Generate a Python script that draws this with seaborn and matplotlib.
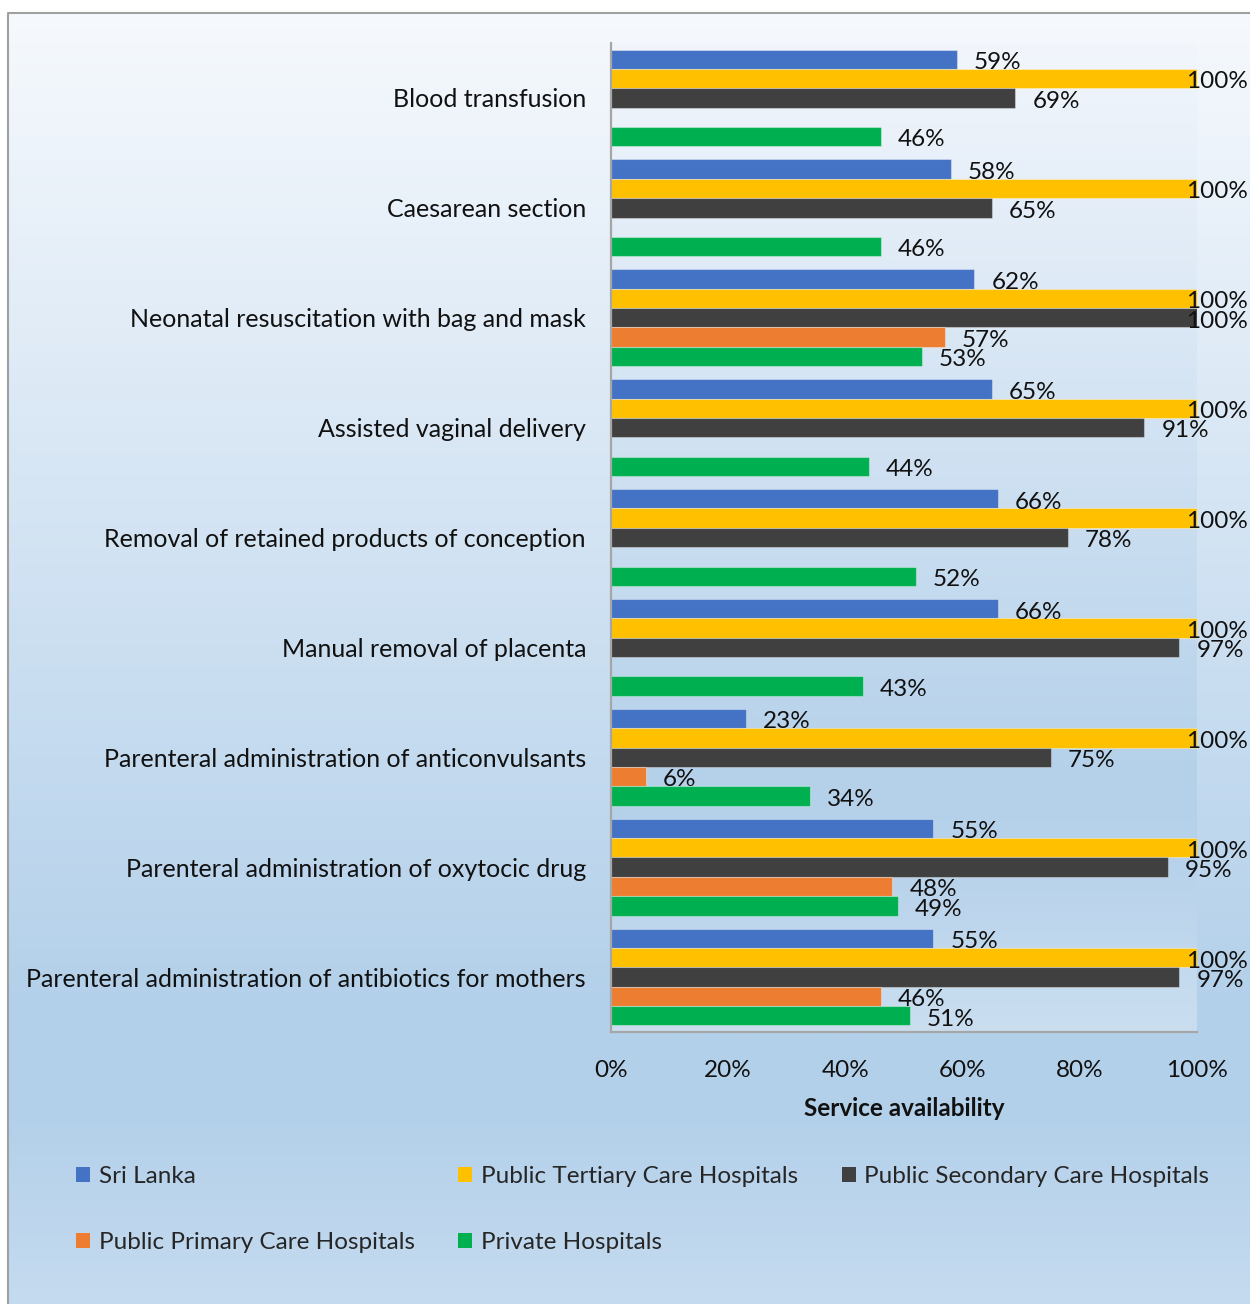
import numpy as np
import pandas as pd
import matplotlib
matplotlib.use("Agg")
import matplotlib.pyplot as plt
import seaborn as sns
from matplotlib.patches import Patch
from matplotlib.colors import to_rgb

# ---- data -----------------------------------------------------------------
procedures = [
    "Blood transfusion",
    "Caesarean section",
    "Neonatal resuscitation with bag and mask",
    "Assisted vaginal delivery",
    "Removal of retained products of conception",
    "Manual removal of placenta",
    "Parenteral administration of anticonvulsants",
    "Parenteral administration of oxytocic drug",
    "Parenteral administration of antibiotics for mothers",
]
series = [
    "Sri Lanka",
    "Public Tertiary Care Hospitals",
    "Public Secondary Care Hospitals",
    "Public Primary Care Hospitals",
    "Private Hospitals",
]
sri_lanka = [59, 58, 62, 65, 66, 66, 23, 55, 55]
tertiary = [100, 100, 100, 100, 100, 100, 100, 100, 100]
secondary = [69, 65, 100, 91, 78, 97, 75, 95, 97]
primary = [np.nan, np.nan, 57, np.nan, np.nan, np.nan, 6, 48, 46]
private = [46, 46, 53, 44, 52, 43, 34, 49, 51]
x_ticks = [0, 20, 40, 60, 80, 100]

colors = ["#4472C4", "#FFC000", "#404040", "#ED7D31", "#00B050"]

rows = []
for name, vals in zip(series, [sri_lanka, tertiary, secondary, primary, private]):
    for proc, v in zip(procedures, vals):
        rows.append({"procedure": proc, "series": name, "value": v})
df = pd.DataFrame(rows).dropna()

# ---- figure ---------------------------------------------------------------
W, H = 1250, 1304
sns.set_style("white")
plt.rcParams["font.family"] = ["Lato", "DejaVu Sans"]
fig = plt.figure(figsize=(W / 100, H / 100), dpi=100)
fig.patch.set_facecolor("white")


def gradient(stops, n=512):
    pos = np.array([s[0] for s in stops])
    cols = np.array([to_rgb(s[1]) for s in stops])
    t = np.linspace(0, 1, n)
    arr = np.stack([np.interp(t, pos, cols[:, k]) for k in range(3)], axis=-1)
    return arr[:, None, :]


# background layer in pixel coordinates
bg = fig.add_axes([0, 0, 1, 1], zorder=-10)
bg.set_xlim(0, W)
bg.set_ylim(H, 0)
bg.axis("off")
chart_grad = gradient([(0, "#f6f9fd"), (0.76, "#b3d0ea"), (0.84, "#b3d0ea"), (1.0, "#c7dcf0")])
bg.imshow(chart_grad, extent=[8, W + 5, H + 20, 13], aspect="auto", interpolation="bilinear")
bg.plot([8, 8, W + 5], [H + 20, 13, 13], color="#a0a0a0", lw=1.5)

px0, px1, py0, py1 = 611, 1197, 43, 1032
plot_grad = gradient([(0, "#f2f6fc"), (0.74, "#b5d1ea"), (0.83, "#b7d2eb"), (1.0, "#cadef0")])
bg.imshow(plot_grad, extent=[px0, px1, py1, py0], aspect="auto", interpolation="bilinear")
bg.set_xlim(0, W)
bg.set_ylim(H, 0)

ax = fig.add_axes([px0 / W, 1 - py1 / H, (px1 - px0) / W, (py1 - py0) / H])
ax.patch.set_alpha(0)

sns.barplot(
    data=df, y="procedure", x="value", hue="series", orient="h",
    order=procedures, hue_order=series, palette=colors, saturation=1,
    width=0.88, edgecolor=(1, 1, 1, 0.35), linewidth=0.8,
    legend=False, ax=ax, errorbar=None,
)

ax.set_xlim(0, 100)
ax.set_xticks(x_ticks)
ax.set_xticklabels([f"{t}%" for t in x_ticks], fontsize=17.5, color="#111111")
ax.tick_params(axis="x", length=0, pad=20)
ax.tick_params(axis="y", length=0, pad=18, labelsize=18, labelcolor="#111111")
ax.set_ylabel("")
ax.set_xlabel("Service availability", fontsize=17.5, fontweight="bold", labelpad=12, color="#111111")
for side in ["top", "right"]:
    ax.spines[side].set_visible(False)
for side in ["left", "bottom"]:
    ax.spines[side].set_color("#a6a6a6")
    ax.spines[side].set_linewidth(1.6)

# ---- value labels -------------------------------------------------------------
px_per_unit = (px1 - px0) / 100.0
offset = 17 / px_per_unit
right_limit = (1248 - px0) / px_per_unit
labels = []
for cont in ax.containers:
    for bar in cont:
        val = bar.get_width()
        yc = bar.get_y() + bar.get_height() / 2 + 0.03
        t = ax.text(val + offset, yc, f"{val:.0f}%", ha="left", va="center",
                    fontsize=17.5, color="#111111", clip_on=False)
        labels.append(t)

fig.canvas.draw()
renderer = fig.canvas.get_renderer()
for t in labels:
    ext = t.get_window_extent(renderer)
    if ext.x1 > 1248:
        t.set_x(right_limit)
        t.set_ha("right")

# ---- legend -------------------------------------------------------------------
handles = [Patch(facecolor=c, edgecolor="none") for c in colors]
order = [0, 3, 1, 4, 2]
fig.legend(
    [handles[i] for i in order], [series[i] for i in order],
    ncol=3, loc="upper left", bbox_to_anchor=(76 / W, 1 - 1166 / H),
    frameon=False, fontsize=17.5, handlelength=0.58, handleheight=0.58,
    handletextpad=0.35, columnspacing=1.8, labelspacing=1.85,
    borderpad=0, borderaxespad=0,
)

fig.savefig("out.png", dpi=100)
